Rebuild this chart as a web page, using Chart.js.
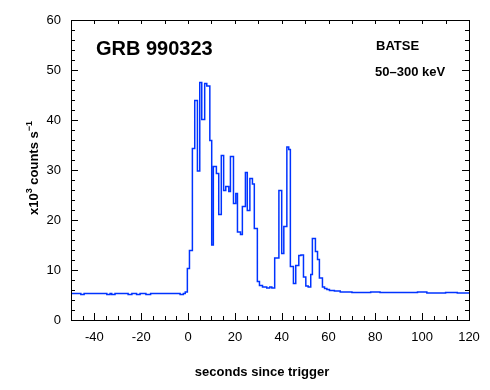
<!DOCTYPE html>
<html>
<head>
<meta charset="utf-8">
<script src="https://cdn.jsdelivr.net/npm/chart.js@4"></script>
<style>
  body { margin: 0; background: #fff; }
  #wrap { width: 490px; height: 390px; }
</style>
</head>
<body>
<div id="wrap"><canvas id="lc" width="490" height="390"></canvas></div>
<script>
// bin start times (s) and counts (x10^3 counts/s)
const binStart = [
  -50, -45.8, -44.4, -34.7, -33.3, -32.6, -31.2, -25.6, -24, -22, -20.5, -18, -16,
  -3.4, -2, -1.2, -0.3, 0.6, 1.85, 2.85, 4.0, 5.0, 5.85, 7.1, 8.0, 9.3, 10.1, 10.8,
  12.1, 13.1, 14.2, 15.2, 16.1, 17.4, 18.1, 19.4, 20.4, 21.1, 22.4, 23.2, 24.5, 25.3,
  26.4, 27.5, 28.3, 29.6, 30.5, 31.8, 33.6, 34.9, 35.8, 37.0, 38.8, 40.0, 40.9, 42.2,
  43.0, 43.7, 45.0, 46.0, 47.3, 48.2, 49.3, 50.3, 51.3, 52.4, 53.1, 54.4, 55.3, 56.1,
  57.4, 58.3, 59.3, 60.4, 62.5, 65, 70, 78, 82, 90, 98, 102, 110, 115
];
const counts = [
  5.3, 5.1, 5.3, 5.1, 5.3, 5.1, 5.3, 5.1, 5.3, 5.1, 5.3, 5.1, 5.3,
  5.1, 5.3, 5.6, 10.3, 13.9, 34.3, 43.9, 29.8, 47.5, 40.1, 47.3, 46.8, 35.9, 15.0, 30.7,
  29.3, 21.1, 32.9, 25.9, 26.7, 25.7, 32.7, 23.3, 25.3, 17.6, 17.1, 22.7, 29.5, 21.9,
  28.3, 27.2, 18.3, 7.7, 6.9, 6.6, 6.4, 6.6, 6.4, 12.4, 25.9, 13.3, 18.7, 34.6,
  34.1, 10.7, 7.3, 10.9, 12.9, 13.0, 8.6, 6.8, 6.6, 9.1, 16.3, 13.7, 12.1, 8.4,
  6.6, 6.3, 6.1, 5.9, 5.8, 5.6, 5.5, 5.6, 5.5, 5.5, 5.6, 5.4, 5.5, 5.4
];
const xTicks = [-40, -20, 0, 20, 40, 60, 80, 100, 120];
const yTicks = [0, 10, 20, 30, 40, 50, 60];

const pts = binStart.map((t, i) => ({ x: t, y: counts[i] }));
pts.push({ x: 120, y: counts[counts.length - 1] });

const frame = {
  id: 'frame',
  afterDraw(chart) {
    const c = chart.ctx, a = chart.chartArea;
    const xs = chart.scales.x, ys = chart.scales.y;
    c.save();
    c.strokeStyle = '#000';
    c.lineWidth = 1;
    c.strokeRect(Math.round(a.left) + 0.5, Math.round(a.top) + 0.5,
      Math.round(a.right - a.left), Math.round(a.bottom - a.top));
    c.beginPath();
    for (let v = -50; v <= 120; v += 5) {
      const px = Math.round(xs.getPixelForValue(v)) + 0.5;
      const len = v % 20 === 0 ? 7 : 4;
      c.moveTo(px, a.bottom); c.lineTo(px, a.bottom - len);
      if (v % 10 === 0) { c.moveTo(px, a.top); c.lineTo(px, a.top + 4); }
    }
    for (let v = 0; v <= 60; v += 2) {
      const py = Math.round(ys.getPixelForValue(v)) + 0.5;
      const len = v % 10 === 0 ? 7 : 4;
      c.moveTo(a.left, py); c.lineTo(a.left + len, py);
      c.moveTo(a.right, py); c.lineTo(a.right - len, py);
    }
    c.stroke();

    c.fillStyle = '#000';
    c.textBaseline = 'alphabetic';
    c.font = 'bold 20px "Liberation Sans", Arial, sans-serif';
    c.fillText('GRB 990323', 96, 55);
    c.font = 'bold 13px "Liberation Sans", Arial, sans-serif';
    c.fillText('BATSE', 376, 50);
    c.fillText('50–300 keV', 375, 76);

    c.textAlign = 'center';
    c.fillText('seconds since trigger', 262, 376);

    // y title, rotated, with superscripts
    c.textAlign = 'left';
    c.translate(38, 168);
    c.rotate(-Math.PI / 2);
    const parts = [['x10', 13, 0], ['3', 9, -6], [' counts s', 13, 0], ['−1', 9, -6]];
    let w = 0;
    parts.forEach(p => { c.font = 'bold ' + p[1] + 'px "Liberation Sans", Arial, sans-serif'; w += c.measureText(p[0]).width; });
    let x0 = -w / 2;
    parts.forEach(p => {
      c.font = 'bold ' + p[1] + 'px "Liberation Sans", Arial, sans-serif';
      c.fillText(p[0], x0, p[2]);
      x0 += c.measureText(p[0]).width;
    });
    c.restore();
  }
};

new Chart(document.getElementById('lc'), {
  type: 'line',
  data: {
    datasets: [{
      data: pts,
      stepped: 'before',
      borderColor: '#0033ff',
      borderWidth: 1.5,
      pointRadius: 0,
      fill: false
    }]
  },
  options: {
    responsive: false,
    animation: false,
    layout: { padding: { top: 20, right: 21, left: 0, bottom: 0 } },
    plugins: { legend: { display: false }, tooltip: { enabled: false } },
    scales: {
      x: {
        type: 'linear', min: -50, max: 120,
        afterBuildTicks: s => { s.ticks = xTicks.map(v => ({ value: v })); },
        afterFit: s => { s.height = 70; },
        grid: { display: false, drawTicks: false },
        border: { display: false },
        ticks: { padding: 10, autoSkip: false, maxRotation: 0, color: '#000',
          font: { family: '"Liberation Sans", Arial, sans-serif', size: 13 } }
      },
      y: {
        min: 0, max: 60,
        afterBuildTicks: s => { s.ticks = yTicks.map(v => ({ value: v })); },
        afterFit: s => { s.width = 71; },
        grid: { display: false, drawTicks: false },
        border: { display: false },
        ticks: { padding: 10, autoSkip: false, color: '#000',
          font: { family: '"Liberation Sans", Arial, sans-serif', size: 13 } }
      }
    }
  },
  plugins: [frame]
});
</script>
</body>
</html>
